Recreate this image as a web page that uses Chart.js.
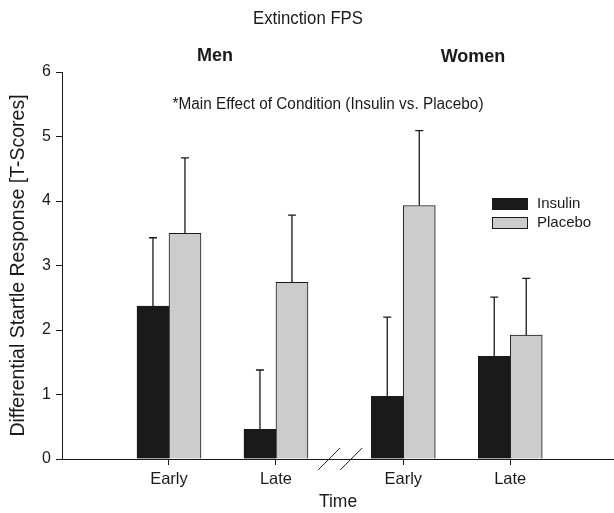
<!DOCTYPE html>
<html>
<head>
<meta charset="utf-8">
<script src="https://cdn.jsdelivr.net/npm/chart.js@4/dist/chart.umd.min.js"></script>
<style>
  html, body { margin: 0; padding: 0; background: #fff; }
  #wrap { width: 614px; height: 513px; }
</style>
</head>
<body>
<div id="wrap"><canvas id="c" width="614" height="513"></canvas></div>
<script>
// data
var timeLabels = ['Early', 'Late', 'Early', 'Late'];
var xPos = [1, 2, 3.19, 4.19];        // Men: 1,2  Women: 3.19,4.19 (axis is broken between)
var insulin = [2.37, 0.46, 0.97, 1.59];
var insulinErr = [1.06, 0.92, 1.23, 0.92];
var placebo = [3.50, 2.74, 3.93, 1.92];
var placeboErr = [1.17, 1.04, 1.16, 0.88];
var yTicks = [0, 1, 2, 3, 4, 5, 6];

var FONT = 'Arial, "Liberation Sans", sans-serif';
var INK = '#1a1a1a';

function pts(vals) {
    return vals.map(function (v, i) { return { x: xPos[i], y: v }; });
}

// error bars, axis break marks, group headers, note, legend
var extras = {
    id: 'extras',
    afterDatasetsDraw: function (chart) {
        var ctx = chart.ctx, y = chart.scales.y, x = chart.scales.x;
        var errs = [insulinErr, placeboErr];
        var vals = [insulin, placebo];
        ctx.save();
        ctx.strokeStyle = INK;
        ctx.lineWidth = 1.3;
        for (var d = 0; d < 2; d++) {
            var meta = chart.getDatasetMeta(d);
            meta.data.forEach(function (bar, i) {
                var top = y.getPixelForValue(vals[d][i] + errs[d][i]);
                ctx.beginPath();
                ctx.moveTo(bar.x, bar.y);
                ctx.lineTo(bar.x, top);
                ctx.moveTo(bar.x - 4, top);
                ctx.lineTo(bar.x + 4, top);
                ctx.stroke();
            });
        }
        // axis break "//"
        var bx = x.getPixelForValue(2.6), by = chart.chartArea.bottom;
        ctx.lineWidth = 1;
        [-11, 11].forEach(function (off) {
            ctx.beginPath();
            ctx.moveTo(bx + off - 11, by + 11);
            ctx.lineTo(bx + off + 11, by - 11);
            ctx.stroke();
        });

        ctx.fillStyle = INK;
        ctx.textAlign = 'center';
        ctx.textBaseline = 'middle';
        ctx.font = '19px ' + FONT;
        ctx.fillText('Extinction FPS', 308, 19, 110);
        ctx.font = 'bold 18px ' + FONT;
        ctx.fillText('Men', 215, 56);
        ctx.fillText('Women', 473, 57);
        ctx.font = '16px ' + FONT;
        ctx.fillText('*Main Effect of Condition (Insulin vs. Placebo)', 328, 105, 311);

        // legend
        var items = [['Insulin', INK, 198], ['Placebo', '#cccccc', 217]];
        ctx.textAlign = 'left';
        ctx.font = '15px ' + FONT;
        items.forEach(function (it) {
            ctx.fillStyle = it[1];
            ctx.fillRect(492, it[2], 36, 12);
            ctx.strokeStyle = INK;
            ctx.lineWidth = 1;
            ctx.strokeRect(492.5, it[2] + 0.5, 35, 11);
            ctx.fillStyle = INK;
            ctx.fillText(it[0], 537, it[2] + 6);
        });
        ctx.restore();
    }
};

new Chart(document.getElementById('c'), {
    type: 'bar',
    data: {
        datasets: [
            {
                label: 'Insulin',
                data: pts(insulin),
                backgroundColor: INK,
                borderColor: INK,
                borderWidth: 1,
                barThickness: 32
            },
            {
                label: 'Placebo',
                data: pts(placebo),
                backgroundColor: '#cccccc',
                borderColor: INK,
                borderWidth: 1,
                barThickness: 32
            }
        ]
    },
    options: {
        responsive: false,
        animation: false,
        layout: { padding: { top: 72, right: 0, bottom: 0, left: 0 } },
        plugins: {
            legend: { display: false },
            title: { display: false },
            tooltip: { enabled: false }
        },
        scales: {
            x: {
                type: 'linear',
                min: 0,
                max: 5.16,
                offset: false,
                grid: { display: true, drawOnChartArea: false, drawTicks: true, tickLength: 6, color: INK, offset: false },
                border: { display: true, color: INK, width: 1 },
                afterBuildTicks: function (scale) {
                    scale.ticks = xPos.map(function (v) { return { value: v }; });
                },
                afterFit: function (scale) { scale.height = 54; },
                ticks: {
                    color: INK,
                    padding: 5,
                    maxRotation: 0,
                    autoSkip: false,
                    font: { family: FONT, size: 16.5 },
                    callback: function (v, i) { return timeLabels[i]; }
                },
                title: {
                    display: true,
                    text: 'Time',
                    color: INK,
                    padding: 0,
                    font: { family: FONT, size: 17.5 }
                }
            },
            y: {
                min: 0,
                max: 6,
                grid: { display: true, drawOnChartArea: false, drawTicks: true, tickLength: 6, color: INK },
                border: { display: true, color: INK, width: 1 },
                afterBuildTicks: function (scale) {
                    scale.ticks = yTicks.map(function (v) { return { value: v }; });
                },
                afterFit: function (scale) { scale.width = 62; },
                ticks: {
                    color: INK,
                    padding: 5,
                    font: { family: FONT, size: 16 }
                },
                title: {
                    display: true,
                    text: 'Differential Startle Response [T-Scores]',
                    color: INK,
                    padding: { top: 7, bottom: 0 },
                    font: { family: FONT, size: 19.5 }
                }
            }
        }
    },
    plugins: [extras]
});
</script>
</body>
</html>
